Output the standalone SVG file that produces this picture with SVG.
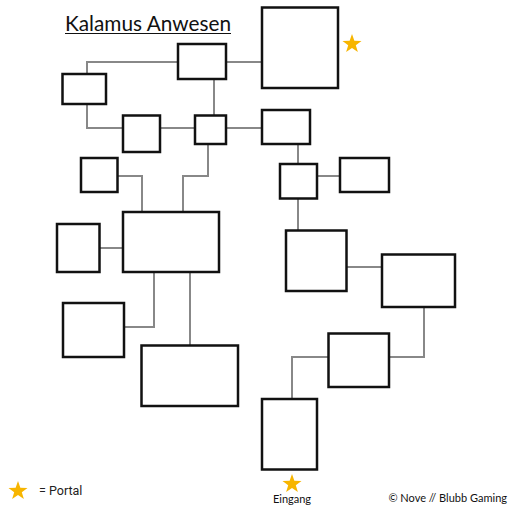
<svg xmlns="http://www.w3.org/2000/svg" width="512" height="512" viewBox="0 0 512 512">
<style>
.room{fill:#fff;stroke:#111;stroke-width:2.5}
.link{fill:none;stroke:#888;stroke-width:2}
.star{fill:#f7b500}
.t{font-family:Lato,"Open Sans",sans-serif;fill:#111}
</style>
<defs>
<polygon id="star" points="0,-10 2.35,-3.24 9.51,-3.09 3.8,1.24 5.88,8.09 0,4 -5.88,8.09 -3.8,1.24 -9.51,-3.09 -2.35,-3.24"/>
</defs>
<rect width="512" height="512" fill="#fff"/>
<g id="title">
<text class="t" x="65" y="31" font-size="22" textLength="166" lengthAdjust="spacingAndGlyphs">Kalamus Anwesen</text>
<line x1="65" y1="33.5" x2="231" y2="33.5" stroke="#111" stroke-width="1.2"/>
</g>
<g id="connectors">
<polyline class="link" points="87,74 87,62 178,62"/>
<line class="link" x1="226" y1="62" x2="262" y2="62"/>
<polyline class="link" points="87,104 87,128 123,128"/>
<line class="link" x1="160" y1="128" x2="195" y2="128"/>
<line class="link" x1="226" y1="128" x2="262" y2="128"/>
<line class="link" x1="214" y1="79" x2="214" y2="115"/>
<polyline class="link" points="208,144 208,176 183,176 183,212"/>
<polyline class="link" points="118,176 142,176 142,212"/>
<line class="link" x1="100" y1="248" x2="123" y2="248"/>
<polyline class="link" points="154,272 154,327 124,327"/>
<line class="link" x1="190" y1="272" x2="190" y2="345"/>
<line class="link" x1="298" y1="144" x2="298" y2="164"/>
<line class="link" x1="317" y1="176" x2="340" y2="176"/>
<line class="link" x1="298" y1="199" x2="298" y2="230"/>
<line class="link" x1="347" y1="267" x2="382" y2="267"/>
<polyline class="link" points="424,307 424,357 389,357"/>
<polyline class="link" points="328,357 292,357 292,399"/>
</g>
<g id="roomA"><rect class="room" x="178" y="44" width="48" height="35"/></g>
<g id="roomB"><rect class="room" x="62.5" y="74" width="43.5" height="30"/></g>
<g id="roomC"><rect class="room" x="123" y="115.5" width="37" height="36.5"/></g>
<g id="roomD"><rect class="room" x="195" y="115.5" width="31" height="28.5"/></g>
<g id="roomE"><rect class="room" x="262" y="7.5" width="76" height="80.5"/></g>
<g id="roomF"><rect class="room" x="262" y="110" width="48" height="34"/></g>
<g id="roomG"><rect class="room" x="81" y="158" width="36.5" height="34"/></g>
<g id="roomH"><rect class="room" x="123" y="212" width="96" height="60"/></g>
<g id="roomI"><rect class="room" x="57" y="224" width="42.5" height="48"/></g>
<g id="roomJ"><rect class="room" x="63" y="303" width="61" height="54"/></g>
<g id="roomK"><rect class="room" x="141.5" y="345.5" width="96.5" height="60.5"/></g>
<g id="roomL"><rect class="room" x="280" y="164" width="37" height="34.5"/></g>
<g id="roomM"><rect class="room" x="340" y="158" width="49" height="34"/></g>
<g id="roomN"><rect class="room" x="286" y="230.5" width="60.5" height="60.5"/></g>
<g id="roomO"><rect class="room" x="382" y="254.5" width="73" height="52.5"/></g>
<g id="roomP"><rect class="room" x="328.5" y="333.5" width="60.5" height="53.5"/></g>
<g id="roomQ"><rect class="room" x="262" y="399" width="55" height="70.5"/></g>
<g id="portal-star"><use href="#star" class="star" transform="translate(352,44)"/></g>
<g id="entrance">
<use href="#star" class="star" transform="translate(292,484)"/>
<text class="t" x="292" y="503" font-size="11" text-anchor="middle">Eingang</text>
</g>
<g id="legend">
<use href="#star" class="star" transform="translate(18,491)"/>
<text x="39" y="495" font-size="12.5" font-family="Roboto,'Liberation Sans',sans-serif" fill="#222">= Portal</text>
</g>
<text class="t" x="507" y="502" font-size="11" text-anchor="end">© Nove // Blubb Gaming</text>
</svg>
